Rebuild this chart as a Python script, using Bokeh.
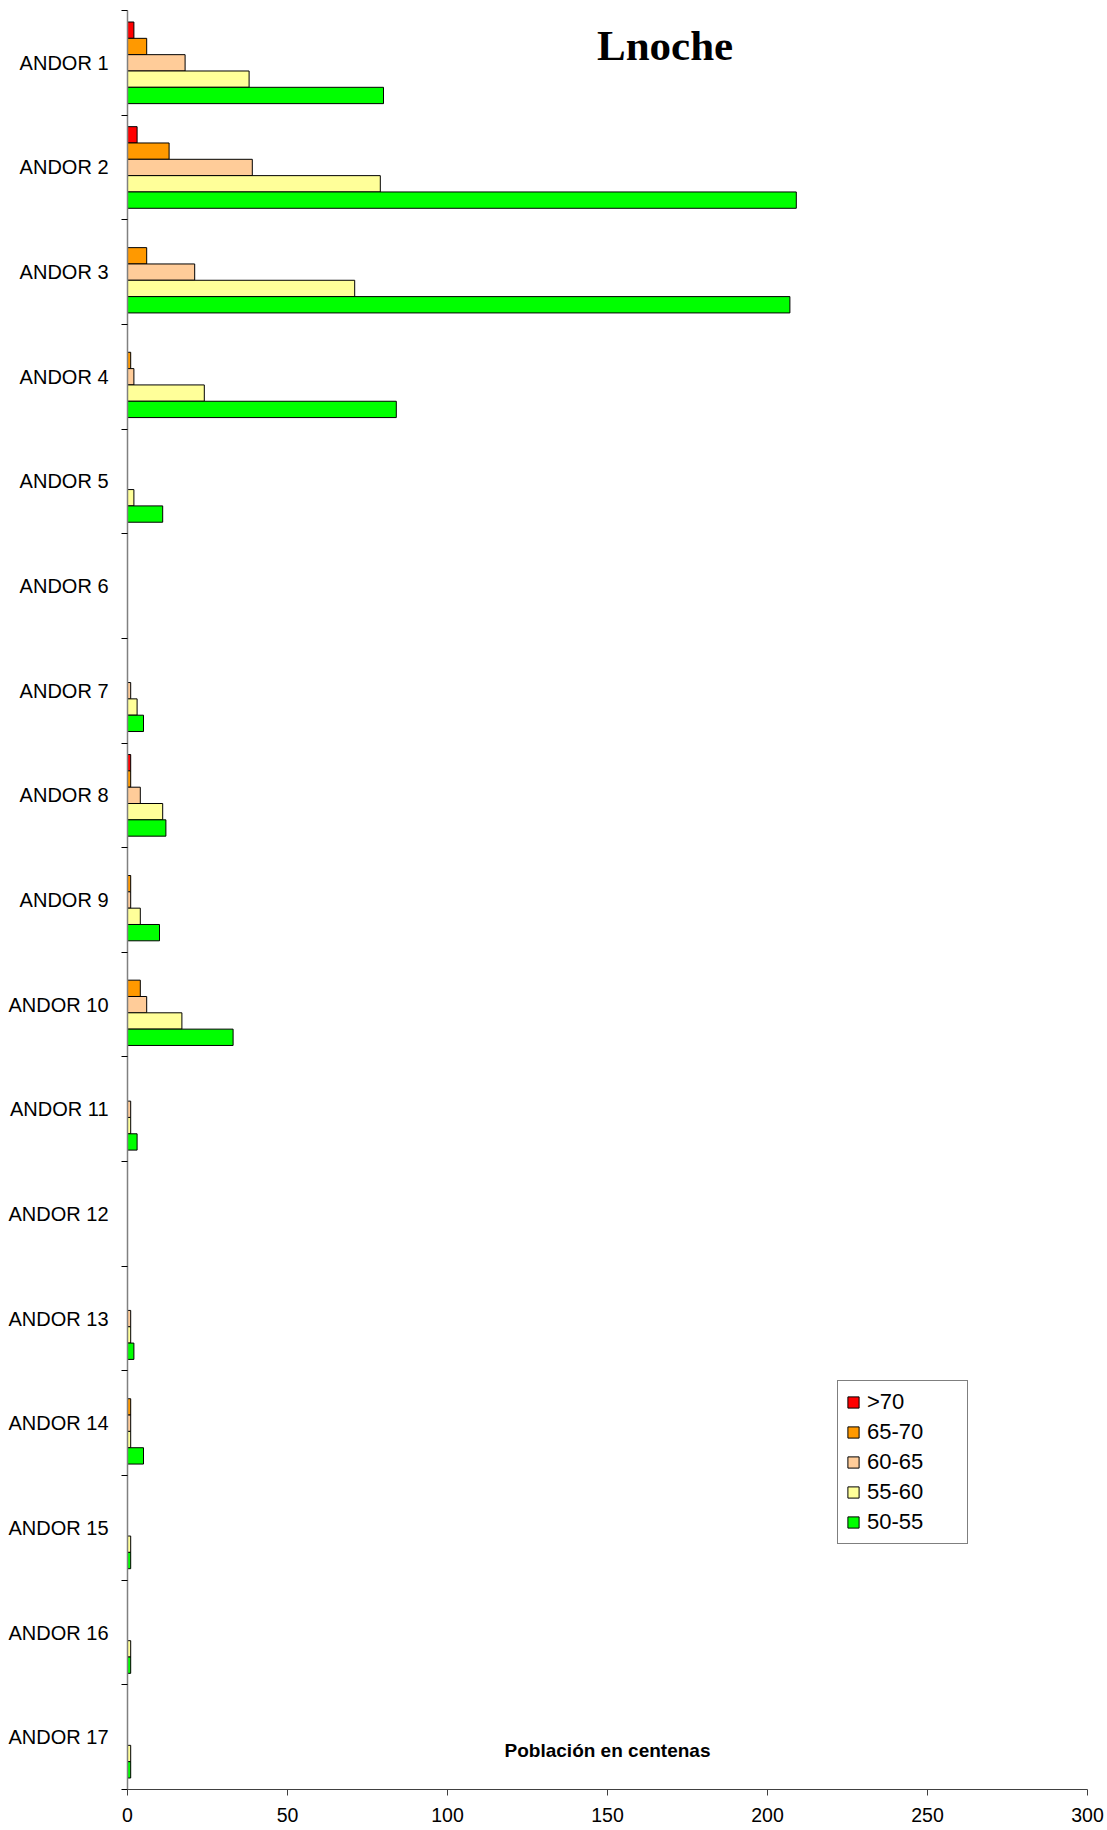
from bokeh.plotting import figure
from bokeh.models import (Range1d, FixedTicker, ColumnDataSource, Legend, LegendItem, Label)
from bokeh.embed import file_html
from bokeh.resources import INLINE

categories = ["ANDOR 1", "ANDOR 2", "ANDOR 3", "ANDOR 4", "ANDOR 5", "ANDOR 6",
              "ANDOR 7", "ANDOR 8", "ANDOR 9", "ANDOR 10", "ANDOR 11", "ANDOR 12",
              "ANDOR 13", "ANDOR 14", "ANDOR 15", "ANDOR 16", "ANDOR 17"]

series_names = [">70", "65-70", "60-65", "55-60", "50-55"]
series_colors = ["#FF0000", "#FF9900", "#FFCC99", "#FFFF99", "#00FF00"]

v_gt70  = [2, 3, 0, 0, 0, 0, 0, 1, 0, 0, 0, 0, 0, 0, 0, 0, 0]
v_65_70 = [6, 13, 6, 1, 0, 0, 0, 1, 1, 4, 0, 0, 0, 1, 0, 0, 0]
v_60_65 = [18, 39, 21, 2, 0, 0, 1, 4, 1, 6, 1, 0, 1, 1, 0, 0, 0]
v_55_60 = [38, 79, 71, 24, 2, 0, 3, 11, 4, 17, 1, 0, 1, 1, 1, 1, 1]
v_50_55 = [80, 209, 207, 84, 11, 0, 5, 12, 10, 33, 3, 0, 2, 5, 1, 1, 1]
series_values = [v_gt70, v_65_70, v_60_65, v_55_60, v_50_55]

x_ticks = [0, 50, 100, 150, 200, 250, 300]

title_text = "Lnoche"
xlabel_text = "Población en centenas"

n = len(categories)
p = figure(width=1107, height=1830, output_backend="svg", toolbar_location=None,
           x_range=Range1d(0, 300), y_range=Range1d(0, n),
           min_border_left=127, min_border_right=20, min_border_top=10, min_border_bottom=41)
p.outline_line_color = None
p.xgrid.visible = False
p.ygrid.visible = False
p.background_fill_color = "white"

# category centres (top first)
centers = [n - i - 0.5 for i in range(n)]
bounds = list(range(0, n + 1))

group = 0.78
bh = group / len(series_names)

renderers = []
for j, (name, col, vals) in enumerate(zip(series_names, series_colors, series_values)):
    off = group / 2 - bh / 2 - j * bh
    ys = [c + off for c, v in zip(centers, vals) if v > 0]
    xs = [v for v in vals if v > 0]
    src = ColumnDataSource(dict(y=ys, right=xs))
    r = p.hbar(y="y", right="right", left=0, height=bh, source=src,
               fill_color=col, line_color="#000000", line_width=1)
    renderers.append((name, r))

# axes
xa = p.xaxis[0]
xa.ticker = FixedTicker(ticks=x_ticks)
xa.major_tick_out = 6
xa.major_tick_in = 0
xa.minor_tick_out = 0
xa.minor_tick_in = 0
xa.axis_line_color = "#404040"
xa.major_tick_line_color = "#404040"
xa.major_label_text_font = "Liberation Sans"
xa.major_label_text_font_size = "19.5px"
xa.major_label_text_color = "black"
xa.major_label_standoff = 12

ya = p.yaxis[0]
ya.ticker = FixedTicker(ticks=centers, minor_ticks=bounds)
ya.major_label_overrides = {c: lab for c, lab in zip(centers, categories)}
ya.major_tick_out = 0
ya.major_tick_in = 0
ya.minor_tick_out = 6
ya.minor_tick_in = 0
ya.minor_tick_line_color = "#000000"
ya.axis_line_color = "#808080"
ya.axis_line_width = 1.5
ya.major_label_text_font = "Liberation Sans"
ya.major_label_text_font_size = "20px"
ya.major_label_text_color = "black"
ya.major_label_standoff = 13

# legend
legend = Legend(items=[LegendItem(label=nm, renderers=[r]) for nm, r in renderers],
                location=(710, 245), orientation="vertical",
                glyph_width=14, glyph_height=14, label_height=25, label_width=92,
                spacing=4, padding=8, margin=0, label_standoff=7,
                label_text_font="Liberation Sans", label_text_font_size="22px",
                label_text_color="black",
                border_line_color="black", border_line_width=1,
                background_fill_color="white", background_fill_alpha=1)
p.add_layout(legend)

p.add_layout(Label(x=168, y=16.67, text=title_text, text_align="center",
                   text_baseline="alphabetic", text_font="Liberation Serif",
                   text_font_style="bold", text_font_size="43px", text_color="black"))
p.add_layout(Label(x=150, y=0.373, text=xlabel_text, text_align="center",
                   text_baseline="middle", text_font="Liberation Sans",
                   text_font_style="bold", text_font_size="19px", text_color="black"))

open("out.html", "w").write(file_html(p, INLINE))
